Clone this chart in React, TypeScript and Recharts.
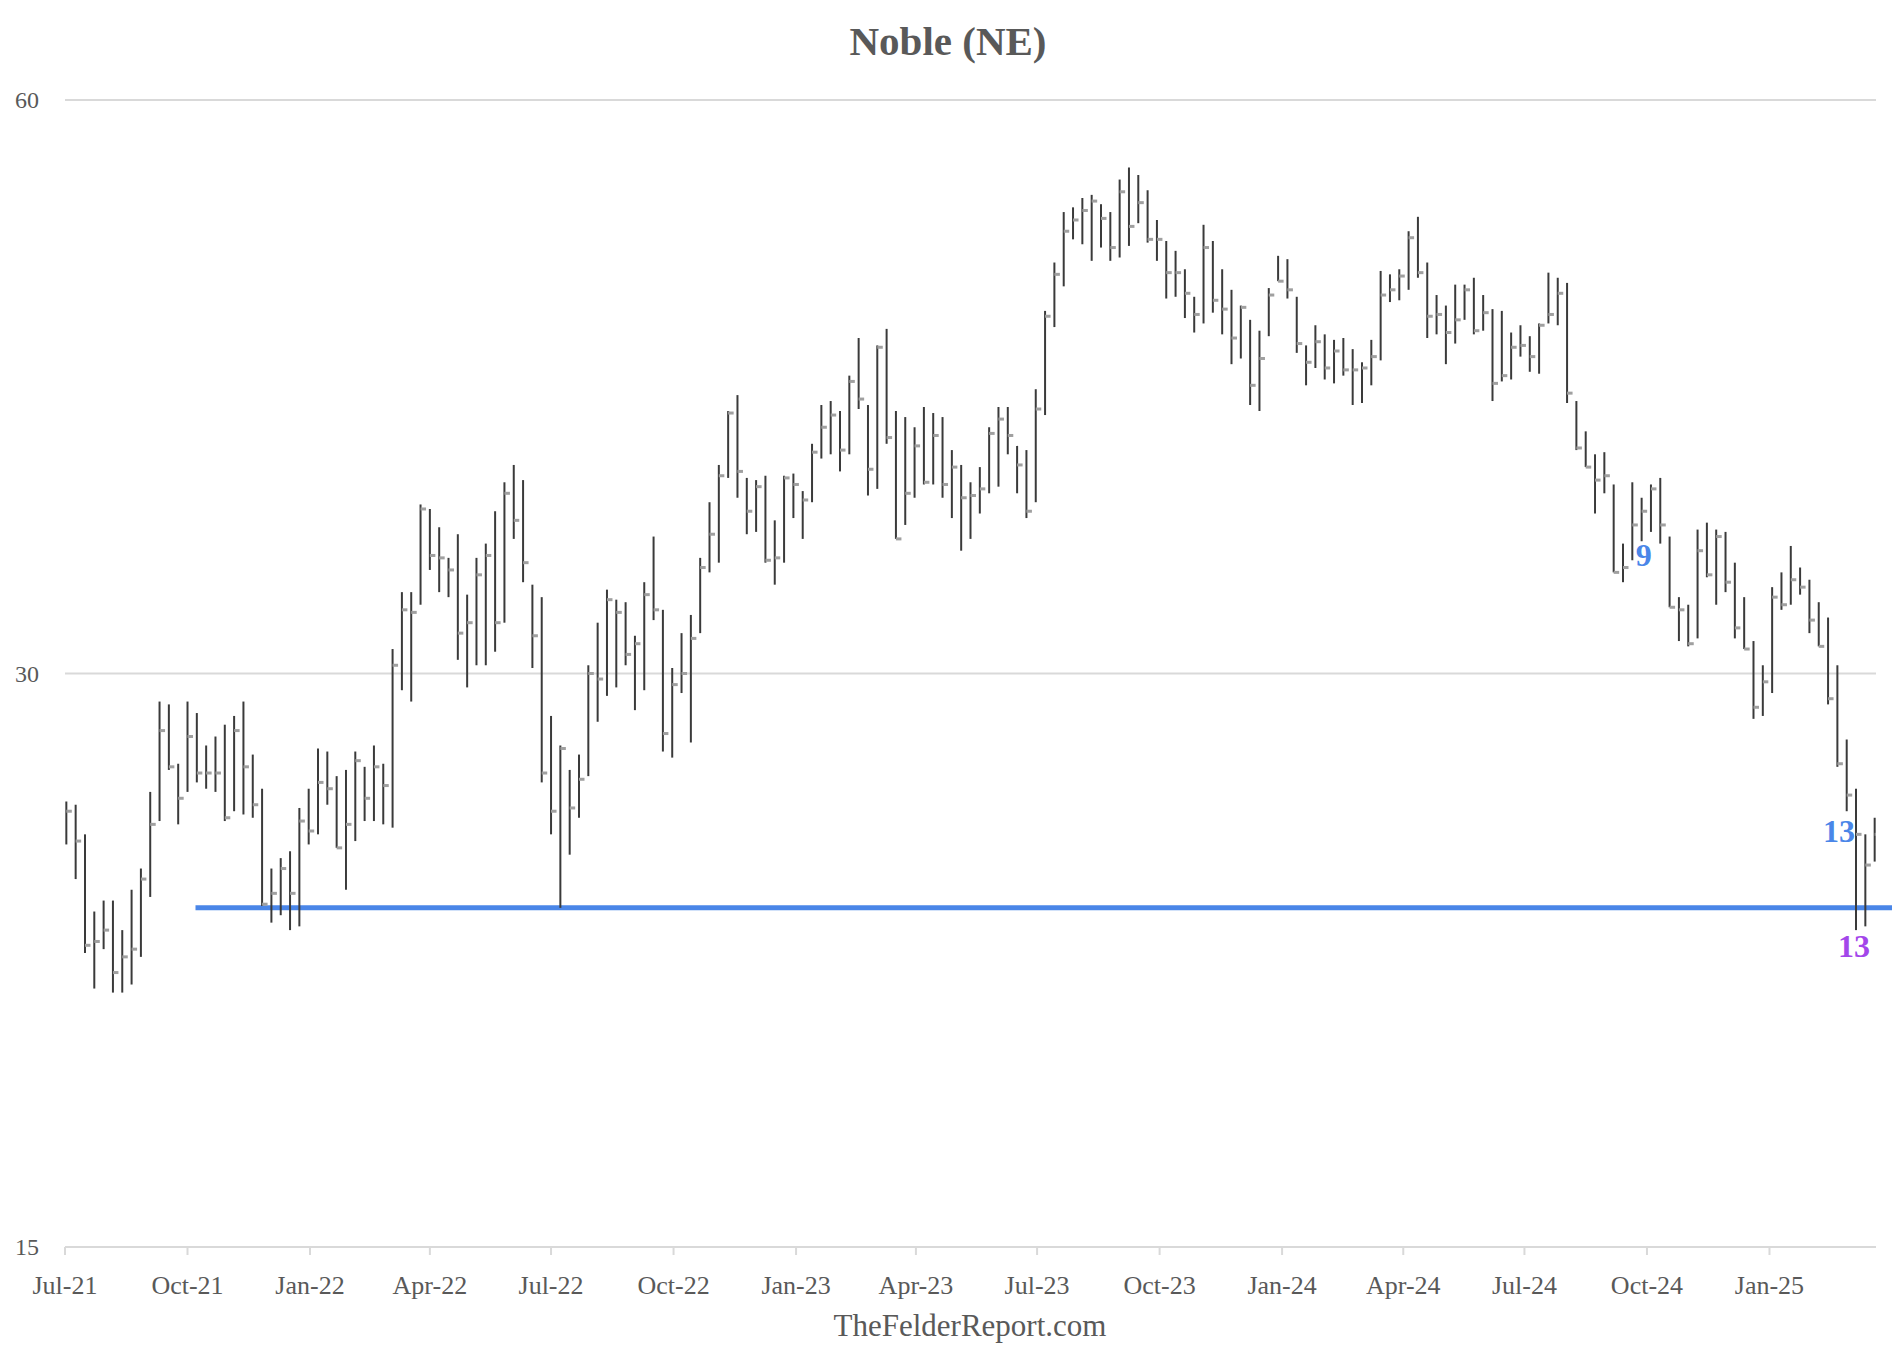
import React from 'react';
import {
  ComposedChart,
  Scatter,
  ErrorBar,
  XAxis,
  YAxis,
  CartesianGrid,
  ReferenceLine,
  ReferenceDot,
} from 'recharts';

// weekly bars, Noble (NE), Jul 2021 - Mar 2025
const high = [
  25.7, 25.6, 24.7, 22.5, 22.8, 22.8, 22.0, 23.1, 23.7, 26.0,
  29.0, 28.9, 26.9, 29.0, 28.6, 27.5, 27.8, 28.2, 28.5, 29.0,
  27.2, 26.1, 23.7, 24.0, 24.2, 25.5, 26.1, 27.4, 27.3, 26.5,
  26.7, 27.3, 26.8, 27.5, 26.9, 30.9, 33.1, 33.1, 36.8, 36.6,
  35.8, 34.5, 35.5, 33.0, 34.5, 35.1, 36.5, 37.8, 38.6, 37.9,
  33.4, 32.9, 28.5, 27.5, 26.7, 27.2, 30.3, 31.9, 33.2, 32.8,
  32.7, 31.4, 33.5, 35.4, 32.4, 30.2, 31.5, 32.2, 34.5, 36.9,
  38.6, 41.2, 42.0, 38.0, 37.9, 38.1, 36.1, 38.1, 38.2, 37.4,
  39.6, 41.5, 41.7, 41.2, 43.0, 45.0, 41.5, 44.6, 45.5, 41.2,
  40.9, 40.4, 41.4, 41.1, 40.9, 39.3, 38.6, 37.8, 38.5, 40.4,
  41.4, 41.4, 39.5, 39.3, 42.3, 46.5, 49.3, 52.4, 52.7, 53.3,
  53.5, 52.9, 52.4, 54.5, 55.3, 54.8, 53.8, 51.9, 50.6, 50.0,
  48.9, 47.3, 51.6, 50.6, 48.9, 47.7, 46.8, 46.0, 45.4, 47.8,
  49.7, 49.5, 47.3, 44.6, 45.7, 45.2, 44.9, 45.0, 44.4, 43.7,
  44.9, 48.8, 48.6, 48.9, 51.2, 52.1, 49.3, 47.4, 46.8, 48.0,
  48.0, 48.4, 47.4, 46.6, 46.5, 45.3, 45.7, 45.1, 45.8, 48.7,
  48.4, 48.1, 41.7, 40.2, 39.1, 39.2, 37.7, 35.1, 37.8, 37.1,
  37.7, 38.0, 35.4, 32.9, 32.6, 35.7, 36.0, 35.7, 35.6, 34.3,
  32.9, 31.2, 30.3, 33.3, 33.9, 35.0, 34.1, 33.6, 32.7, 32.1,
  30.3, 27.7, 26.1, 24.7, 25.2,
];

const low = [
  24.4, 23.4, 21.4, 20.5, 21.5, 20.4, 20.4, 20.6, 21.3, 22.9,
  25.1, 26.7, 25.0, 26.0, 26.3, 26.1, 26.0, 25.1, 25.4, 25.3,
  25.2, 22.65, 22.2, 22.4, 22.0, 22.1, 24.4, 24.7, 25.6, 24.3,
  23.1, 24.5, 25.1, 25.1, 25.0, 24.9, 29.4, 29.0, 32.6, 34.0,
  33.1, 32.9, 30.5, 29.5, 30.3, 30.3, 30.8, 31.9, 35.3, 33.5,
  30.2, 26.3, 24.7, 22.6, 24.1, 25.2, 26.5, 28.3, 29.2, 29.5,
  30.3, 28.7, 29.4, 32.0, 27.3, 27.1, 29.3, 27.6, 31.5, 33.9,
  34.3, 38.0, 37.1, 35.5, 35.6, 34.3, 33.4, 34.3, 36.2, 35.3,
  36.9, 38.9, 39.1, 38.3, 39.1, 41.3, 37.2, 37.5, 39.6, 35.3,
  35.9, 37.1, 37.7, 37.7, 37.1, 36.2, 34.8, 35.3, 36.4, 37.3,
  37.6, 39.1, 37.3, 36.2, 36.9, 41.0, 45.6, 47.9, 50.7, 50.4,
  49.4, 50.2, 49.4, 49.6, 50.3, 51.7, 50.5, 49.4, 47.2, 47.3,
  46.1, 45.3, 45.8, 46.4, 45.2, 43.6, 43.9, 41.5, 41.2, 45.1,
  48.2, 47.2, 44.2, 42.5, 43.4, 42.8, 42.6, 43.0, 41.5, 41.6,
  42.5, 43.8, 47.0, 47.1, 47.7, 48.4, 45.0, 45.2, 43.6, 44.7,
  46.0, 45.2, 45.4, 41.7, 42.7, 42.8, 44.0, 43.2, 43.1, 45.8,
  45.7, 41.6, 39.3, 38.5, 36.4, 37.3, 33.9, 33.5, 34.4, 35.2,
  35.6, 35.1, 32.5, 31.2, 31.0, 31.3, 33.7, 32.6, 33.1, 31.3,
  30.9, 28.4, 28.5, 29.3, 32.4, 32.6, 33.0, 31.5, 31.0, 28.9,
  26.8, 25.4, 22.0, 22.1, 23.9,
];

const close = [
  25.4, 24.5, 21.6, 21.7, 22.0, 20.9, 21.3, 21.5, 23.4, 25.0,
  28.0, 26.8, 25.8, 27.8, 26.6, 26.6, 26.6, 25.2, 28.0, 26.8,
  25.6, 22.7, 23.0, 23.7, 23.0, 25.1, 24.8, 26.3, 26.1, 24.3,
  25.0, 27.0, 25.8, 26.8, 26.2, 30.3, 32.4, 32.3, 36.6, 34.6,
  34.5, 34.0, 31.5, 31.9, 33.8, 34.6, 31.9, 37.3, 36.1, 34.3,
  31.4, 26.6, 25.4, 27.4, 25.5, 26.4, 30.0, 29.8, 32.8, 32.3,
  30.7, 31.1, 33.0, 32.4, 27.9, 29.6, 30.0, 31.3, 34.1, 35.5,
  38.1, 41.1, 38.3, 36.5, 37.6, 34.4, 34.5, 38.0, 37.7, 37.0,
  39.2, 40.4, 41.0, 39.3, 42.7, 41.8, 38.4, 44.5, 39.9, 35.3,
  37.3, 39.5, 37.8, 40.0, 37.7, 38.5, 37.1, 37.2, 37.5, 40.1,
  40.8, 40.0, 38.6, 36.5, 41.3, 46.2, 48.6, 51.2, 51.9, 52.5,
  53.1, 52.0, 50.2, 53.7, 51.5, 53.0, 50.7, 50.7, 48.7, 48.7,
  47.5, 46.3, 50.2, 47.1, 46.6, 45.0, 46.7, 42.5, 43.9, 47.4,
  48.2, 47.7, 44.7, 43.7, 44.8, 43.4, 44.3, 43.3, 43.3, 43.4,
  44.0, 47.4, 47.7, 48.5, 50.8, 48.7, 46.2, 46.3, 45.3, 46.0,
  47.7, 45.4, 46.4, 42.6, 43.0, 44.5, 44.6, 44.0, 45.7, 46.3,
  47.5, 42.1, 39.4, 38.5, 37.9, 38.1, 33.9, 34.1, 35.9, 36.5,
  37.5, 35.9, 32.5, 32.4, 31.1, 34.8, 33.8, 35.4, 33.5, 31.7,
  30.9, 28.8, 29.7, 32.9, 32.6, 33.6, 33.3, 32.0, 31.0, 29.1,
  26.9, 25.9, 24.7, 23.8, 24.7,
];

const tickLabels = [
  'Jul-21', 'Oct-21', 'Jan-22', 'Apr-22', 'Jul-22', 'Oct-22', 'Jan-23', 'Apr-23',
  'Jul-23', 'Oct-23', 'Jan-24', 'Apr-24', 'Jul-24', 'Oct-24', 'Jan-25',
];
const tickDates = [
  Date.UTC(2021, 6, 1), Date.UTC(2021, 9, 1), Date.UTC(2022, 0, 1), Date.UTC(2022, 3, 1),
  Date.UTC(2022, 6, 1), Date.UTC(2022, 9, 1), Date.UTC(2023, 0, 1), Date.UTC(2023, 3, 1),
  Date.UTC(2023, 6, 1), Date.UTC(2023, 9, 1), Date.UTC(2024, 0, 1), Date.UTC(2024, 3, 1),
  Date.UTC(2024, 6, 1), Date.UTC(2024, 9, 1), Date.UTC(2025, 0, 1),
];
const priceTicks = [15, 30, 60];

// horizontal support level
const support = { value: 22.6, from: Date.UTC(2021, 9, 7), to: Date.UTC(2025, 3, 10) };

// count labels (bar index, price where the text sits)
const BLUE = '#4a86e8';
const PURPLE = '#a346ea';
const counts = [
  { bar: 169, value: 34.6, text: '9', color: BLUE, anchor: 'middle', dx: 2 },
  { bar: 192, value: 24.8, text: '13', color: BLUE, anchor: 'end', dx: -1 },
  { bar: 192, value: 21.58, text: '13', color: PURPLE, anchor: 'middle', dx: -2 },
];

const FIRST_BAR = Date.UTC(2021, 6, 2);
const WEEK = 7 * 24 * 3600 * 1000;
const weeks = close.map((_, i) => FIRST_BAR + i * WEEK);

const rows = weeks.map((t, i) => ({
  t,
  close: close[i],
  hl: [close[i] - low[i], high[i] - close[i]],
}));

const FONT = "'Liberation Serif', 'Times New Roman', serif";
const TEXT = '#595959';
const GRID = '#d9d9d9';

const CloseTick = (props: any) => {
  const { cx, cy } = props;
  if (cx == null || cy == null) return null;
  return <rect x={cx} y={cy - 1.5} width={5.5} height={3} fill="#a0a0a0" />;
};

const DateTick = (props: any) => {
  const { x, y, payload } = props;
  const i = tickDates.indexOf(payload.value);
  return (
    <text x={x} y={y} dy={19} textAnchor="middle" fontFamily={FONT} fontSize={26} fill={TEXT}>
      {tickLabels[i] ?? ''}
    </text>
  );
};

const PriceTick = (props: any) => {
  const { x, y, payload } = props;
  return (
    <text x={x} y={y} dy={8} textAnchor="end" fontFamily={FONT} fontSize={24} fill={TEXT}>
      {payload.value}
    </text>
  );
};

const countLabel = (c: (typeof counts)[number]) => (props: any) => (
  <text
    x={props.cx + c.dx}
    y={props.cy}
    textAnchor={c.anchor as any}
    dominantBaseline="central"
    fontFamily={FONT}
    fontWeight="bold"
    fontSize={32}
    fill={c.color}
  >
    {c.text}
  </text>
);

export default function App() {
  return (
    <div style={{ position: 'absolute', left: 0, top: 0, width: 1892, height: 1368, background: '#fff' }}>
      <ComposedChart
        width={1892}
        height={1368}
        data={rows}
        margin={{ top: 100, right: 16, bottom: 41, left: 0 }}
      >
        <CartesianGrid vertical={false} stroke={GRID} strokeWidth={2} />
        <XAxis
          dataKey="t"
          type="number"
          domain={[Date.UTC(2021, 6, 1), Date.UTC(2025, 2, 22)]}
          ticks={tickDates}
          allowDataOverflow
          height={80}
          stroke={GRID}
          strokeWidth={2}
          tickSize={8}
          tickMargin={20}
          tick={<DateTick />}
          interval={0}
        />
        <YAxis
          dataKey="close"
          scale="log"
          domain={[15, 60]}
          ticks={priceTicks}
          allowDataOverflow
          width={65}
          axisLine={false}
          tickLine={false}
          tickMargin={20}
          tick={<PriceTick />}
          interval={0}
        />
        <ReferenceLine
          segment={[
            { x: support.from, y: support.value },
            { x: support.to, y: support.value },
          ]}
          stroke={BLUE}
          strokeWidth={5}
          ifOverflow="visible"
        />
        <Scatter data={rows} dataKey="close" shape={CloseTick} isAnimationActive={false}>
          <ErrorBar
            dataKey="hl"
            direction="y"
            width={0}
            stroke="#3a3a3a"
            strokeWidth={2}
            isAnimationActive={false}
          />
        </Scatter>
        {counts.map((c, i) => (
          <ReferenceDot
            key={i}
            x={weeks[c.bar]}
            y={c.value}
            r={0}
            ifOverflow="visible"
            shape={countLabel(c)}
          />
        ))}
      </ComposedChart>
      <svg
        width={1892}
        height={1368}
        style={{ position: 'absolute', left: 0, top: 0, pointerEvents: 'none' }}
      >
        <text x={948} y={55} textAnchor="middle" fontFamily={FONT} fontWeight="bold" fontSize={41} fill={TEXT}>
          Noble (NE)
        </text>
        <text x={970} y={1336} textAnchor="middle" fontFamily={FONT} fontSize={31} fill={TEXT}>
          TheFelderReport.com
        </text>
      </svg>
    </div>
  );
}
